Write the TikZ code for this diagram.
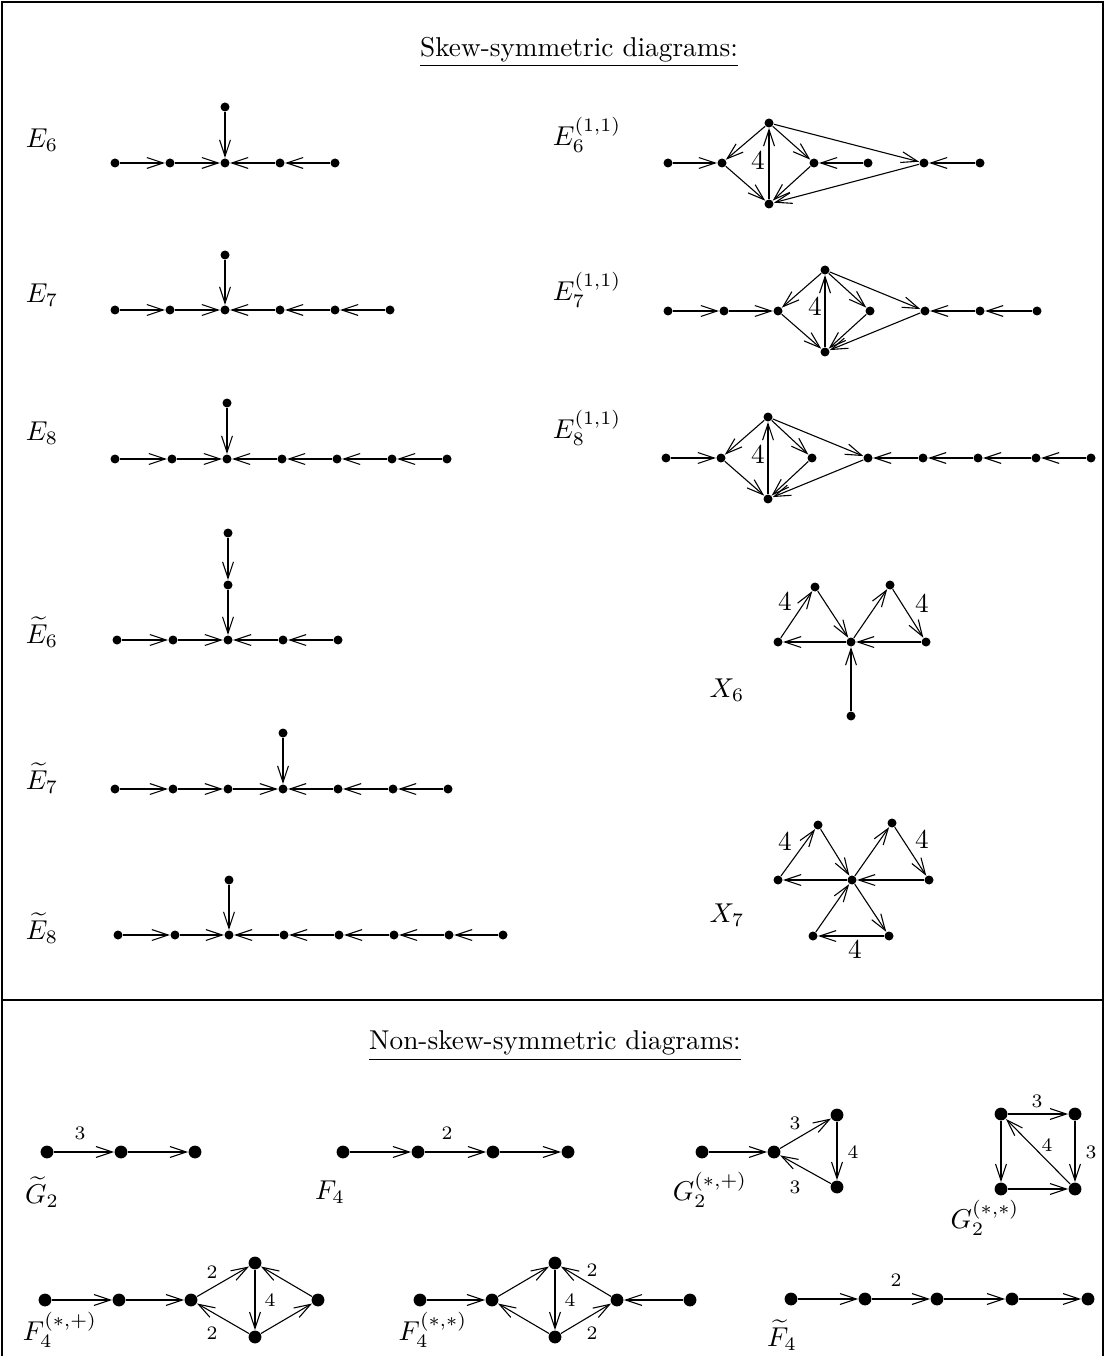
\documentclass[tikz,border=0pt]{standalone}
\usepackage{amsmath}
\usetikzlibrary{arrows.meta}
\begin{document}
\begin{tikzpicture}[x=0.0129cm,y=-0.0129cm,
      dot/.style={circle,fill,inner sep=0pt,minimum size=3.3pt},
      bdot/.style={circle,fill,inner sep=0pt,minimum size=4.7pt},
      ar/.style={-{Straight Barb[length=6pt,width=4pt]},line width=0.4pt},
      num/.style={font=\scriptsize,inner sep=1pt}]
    \useasboundingbox (0,0) rectangle (1105,1356);
    % frame
    \draw[line width=0.8pt] (2,1356) -- (2,2) -- (1103,2) -- (1103,1356);
    \draw[line width=0.8pt] (2,1000) -- (1103,1000);
    \node (skew) at (579,52) {\underline{Skew-symmetric diagrams:}};
    \node (nonskew) at (555,1046) {\underline{Non-skew-symmetric diagrams:}};
    % E6, E7, E8
    \node (le6) at (42,140) {$E_6$};
    \foreach \i/\x in {1/115,2/170,3/225,4/280,5/335}
      \node[dot] (ea\i) at (\x,163) {};
    \node[dot] (ea0) at (225,107) {};
    \foreach \a/\b in {ea1/ea2,ea2/ea3,ea0/ea3,ea4/ea3,ea5/ea4}
      \draw[ar] (\a) -- (\b);
    \node (le7) at (42,295) {$E_7$};
    \foreach \i/\x in {1/115,2/170,3/225,4/280,5/335,6/390}
      \node[dot] (eb\i) at (\x,310) {};
    \node[dot] (eb0) at (225,255) {};
    \foreach \a/\b in {eb1/eb2,eb2/eb3,eb0/eb3,eb4/eb3,eb5/eb4,eb6/eb5}
      \draw[ar] (\a) -- (\b);
    \node (le8) at (42,433) {$E_8$};
    \foreach \i/\x in {1/115,2/172,3/227,4/282,5/337,6/392,7/447}
      \node[dot] (ec\i) at (\x,459) {};
    \node[dot] (ec0) at (227,403) {};
    \foreach \a/\b in {ec1/ec2,ec2/ec3,ec0/ec3,ec4/ec3,ec5/ec4,ec6/ec5,ec7/ec6}
      \draw[ar] (\a) -- (\b);
    % affine E6, E7, E8
    \node (lt6) at (42,632) {$\widetilde{E}_6$};
    \foreach \i/\x in {1/117,2/173,3/228,4/283,5/338}
      \node[dot] (ta\i) at (\x,640) {};
    \node[dot] (ta0) at (228,533) {};
    \node[dot] (tam) at (228,585) {};
    \foreach \a/\b in {ta1/ta2,ta2/ta3,ta0/tam,tam/ta3,ta4/ta3,ta5/ta4}
      \draw[ar] (\a) -- (\b);
    \node (lt7) at (42,778) {$\widetilde{E}_7$};
    \foreach \i/\x in {1/115,2/173,3/228,4/283,5/338,6/393,7/448}
      \node[dot] (tb\i) at (\x,789) {};
    \node[dot] (tb0) at (283,733) {};
    \foreach \a/\b in {tb1/tb2,tb2/tb3,tb3/tb4,tb0/tb4,tb5/tb4,tb6/tb5,tb7/tb6}
      \draw[ar] (\a) -- (\b);
    \node (lt8) at (42,928) {$\widetilde{E}_8$};
    \foreach \i/\x in {1/118,2/175,3/229,4/284,5/339,6/394,7/449,8/503}
      \node[dot] (tc\i) at (\x,935) {};
    \node[dot] (tc0) at (229,880) {};
    \foreach \a/\b in {tc1/tc2,tc2/tc3,tc0/tc3,tc4/tc3,tc5/tc4,tc6/tc5,tc7/tc6,tc8/tc7}
      \draw[ar] (\a) -- (\b);
    % elliptic E6, E7, E8
    \node (lp6) at (587,135) {$E_6^{(1,1)}$};
    \foreach \i/\x in {1/668,2/722,3/814,4/868,5/924,6/980}
      \node[dot] (pa\i) at (\x,163) {};
    \node[dot] (pat) at (769,123) {};
    \node[dot] (pau) at (769,204) {};
    \foreach \a/\b in {pa1/pa2,pat/pa2,pa2/pau,pau/pat,pat/pa3,pa4/pa3,pa3/pau,pat/pa5,pa6/pa5,pa5/pau}
      \draw[ar] (\a) -- (\b);
    \node (pa4l) at (758,161) {$4$};
    \node (lp7) at (587,290) {$E_7^{(1,1)}$};
    \foreach \i/\x in {1/668,2/724,3/778,4/870,5/925,6/980,7/1037}
      \node[dot] (pb\i) at (\x,311) {};
    \node[dot] (pbt) at (825,270) {};
    \node[dot] (pbu) at (825,352) {};
    \foreach \a/\b in {pb1/pb2,pb2/pb3,pbt/pb3,pb3/pbu,pbu/pbt,pbt/pb4,pb4/pbu,pbt/pb5,pb5/pbu,pb6/pb5,pb7/pb6}
      \draw[ar] (\a) -- (\b);
    \node (pb4l) at (815,307) {$4$};
    \node (lp8) at (587,428) {$E_8^{(1,1)}$};
    \foreach \i/\x in {1/666,2/721,3/812,4/868,5/923,6/978,7/1036,8/1091}
      \node[dot] (pc\i) at (\x,458) {};
    \node[dot] (pct) at (768,417) {};
    \node[dot] (pcu) at (768,499) {};
    \foreach \a/\b in {pc1/pc2,pct/pc2,pc2/pcu,pcu/pct,pct/pc3,pc3/pcu,pct/pc4,pc4/pcu,pc5/pc4,pc6/pc5,pc7/pc6,pc8/pc7}
      \draw[ar] (\a) -- (\b);
    \node (pc4l) at (758,455) {$4$};
    % X6, X7
    \node (lx6) at (727,690) {$X_6$};
    \node[dot] (xaL) at (778,642) {};
    \node[dot] (xaTL) at (815,587) {};
    \node[dot] (xaC) at (851,642) {};
    \node[dot] (xaTR) at (890,585) {};
    \node[dot] (xaR) at (926,642) {};
    \node[dot] (xaB) at (851,716) {};
    \foreach \a/\b in {xaL/xaTL,xaTL/xaC,xaC/xaL,xaC/xaTR,xaTR/xaR,xaR/xaC,xaB/xaC}
      \draw[ar] (\a) -- (\b);
    \node (xa4l) at (785,602) {$4$};
    \node (xa4r) at (922,604) {$4$};
    \node (lx7) at (727,915) {$X_7$};
    \node[dot] (xbL) at (778,880) {};
    \node[dot] (xbTL) at (818,825) {};
    \node[dot] (xbC) at (852,880) {};
    \node[dot] (xbTR) at (892,823) {};
    \node[dot] (xbR) at (929,880) {};
    \node[dot] (xbBL) at (813,936) {};
    \node[dot] (xbBR) at (889,936) {};
    \foreach \a/\b in {xbL/xbTL,xbTL/xbC,xbC/xbL,xbC/xbTR,xbTR/xbR,xbR/xbC,xbBL/xbC,xbC/xbBR,xbBR/xbBL}
      \draw[ar] (\a) -- (\b);
    \node (xb4l) at (785,842) {$4$};
    \node (xb4r) at (922,840) {$4$};
    \node (xb4b) at (855,950) {$4$};
    % affine G2 and F4
    \node (lg) at (42,1192) {$\widetilde{G}_2$};
    \foreach \i/\x in {1/47,2/121,3/195}
      \node[bdot] (g\i) at (\x,1152) {};
    \foreach \a/\b in {g1/g2,g2/g3}
      \draw[ar] (\a) -- (\b);
    \node[num] (g3l) at (80,1133) {3};
    \node (lf) at (330,1192) {$F_4$};
    \foreach \i/\x in {1/343,2/418,3/493,4/568}
      \node[bdot] (f\i) at (\x,1152) {};
    \foreach \a/\b in {f1/f2,f2/f3,f3/f4}
      \draw[ar] (\a) -- (\b);
    \node[num] (f2l) at (447,1133) {2};
    % G2 (*,+) and (*,*)
    \node (lgp) at (710,1190) {$G_2^{(*,+)}$};
    \node[bdot] (gpa) at (702,1152) {};
    \node[bdot] (gpb) at (774,1152) {};
    \node[bdot] (gpt) at (837,1115) {};
    \node[bdot] (gpu) at (837,1187) {};
    \foreach \a/\b in {gpa/gpb,gpb/gpt,gpt/gpu,gpu/gpb}
      \draw[ar] (\a) -- (\b);
    \node[num] (gp3t) at (795,1123) {3};
    \node[num] (gp4) at (853,1152) {4};
    \node[num] (gp3b) at (795,1187) {3};
    \node (lgs) at (985,1218) {$G_2^{(*,*)}$};
    \node[bdot] (gsa) at (1001,1114) {};
    \node[bdot] (gsb) at (1075,1114) {};
    \node[bdot] (gsc) at (1001,1189) {};
    \node[bdot] (gsd) at (1075,1189) {};
    \foreach \a/\b in {gsa/gsb,gsb/gsd,gsd/gsa,gsa/gsc,gsc/gsd}
      \draw[ar] (\a) -- (\b);
    \node[num] (gs3t) at (1037,1101) {3};
    \node[num] (gs3r) at (1091,1152) {3};
    \node[num] (gs4) at (1047,1145) {4};
    % F4 (*,+), (*,*) and affine F4
    \node (lfp) at (60,1330) {$F_4^{(*,+)}$};
    \foreach \i/\x in {a/45,b/119,c/191,d/318}
      \node[bdot] (fp\i) at (\x,1300) {};
    \node[bdot] (fpt) at (255,1263) {};
    \node[bdot] (fpu) at (255,1337) {};
    \foreach \a/\b in {fpa/fpb,fpb/fpc,fpc/fpt,fpt/fpu,fpu/fpc,fpd/fpt,fpu/fpd}
      \draw[ar] (\a) -- (\b);
    \node[num] (fp2t) at (212,1272) {2};
    \node[num] (fp4) at (270,1300) {4};
    \node[num] (fp2b) at (212,1333) {2};
    \node (lfs) at (433,1330) {$F_4^{(*,*)}$};
    \foreach \i/\x in {a/420,b/492,c/617,d/690}
      \node[bdot] (fs\i) at (\x,1300) {};
    \node[bdot] (fst) at (555,1263) {};
    \node[bdot] (fsu) at (555,1337) {};
    \foreach \a/\b in {fsa/fsb,fsb/fst,fst/fsu,fsu/fsb,fsc/fst,fsu/fsc,fsd/fsc}
      \draw[ar] (\a) -- (\b);
    \node[num] (fs4) at (570,1300) {4};
    \node[num] (fs2t) at (592,1270) {2};
    \node[num] (fs2b) at (592,1333) {2};
    \node (lft) at (782,1335) {$\widetilde{F}_4$};
    \foreach \i/\x in {1/791,2/865,3/937,4/1012,5/1088}
      \node[bdot] (ft\i) at (\x,1299) {};
    \foreach \a/\b in {ft1/ft2,ft2/ft3,ft3/ft4,ft4/ft5}
      \draw[ar] (\a) -- (\b);
    \node[num] (ft2l) at (896,1280) {2};
  \end{tikzpicture}
\end{document}
